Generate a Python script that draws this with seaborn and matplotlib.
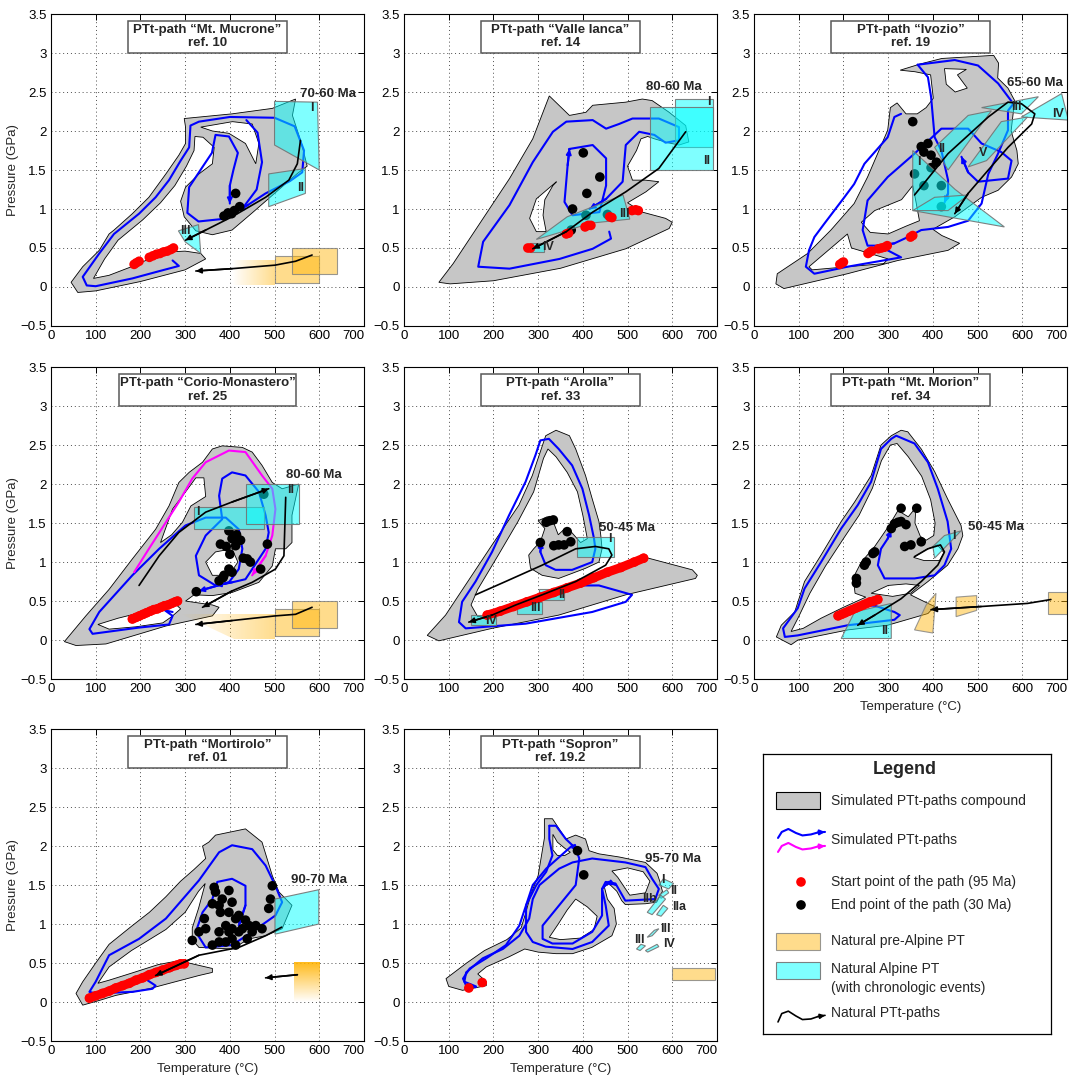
import numpy as np
import matplotlib
matplotlib.use('Agg')
import matplotlib.pyplot as plt
import seaborn as sns
from matplotlib.path import Path
from matplotlib.patches import PathPatch, Polygon, Rectangle

# ---------------- Mt. Mucrone (ref. 10) ----------------
muc_gray = [(45, 0.06), (60, -0.07), (100, -0.05), (200, 0.07), (300, 0.22), (346, 0.36),
            (335, 0.43), (300, 0.46), (265, 0.45), (220, 0.36), (180, 0.26), (130, 0.15), (95, 0.11),
            (120, 0.36), (150, 0.6), (205, 0.86), (245, 1.08), (277, 1.3), (303, 1.55), (320, 1.75), (322, 1.93),
            (340, 1.92), (365, 1.79), (361, 1.58), (331, 1.45), (301, 1.28), (290, 1.1), (298, 0.9), (324, 0.72),
            (361, 0.67), (405, 0.73), (450, 0.95), (480, 1.1), (520, 1.3), (550, 1.45), (573, 1.55),
            (560, 1.85), (540, 2.2), (547, 2.41), (495, 2.29), (405, 2.22), (298, 2.16), (301, 2.05),
            (301, 1.84), (286, 1.69), (257, 1.45), (219, 1.15), (182, 0.94), (141, 0.73), (130, 0.68),
            (108, 0.47), (71, 0.26)]
muc_holes = [[(335, 2.05), (406, 2.12), (450, 2.09), (465, 1.84), (458, 1.58), (435, 1.84), (398, 1.97), (361, 2.0)]]
muc_blue = [[(272, 0.34), (286, 0.27), (240, 0.2), (182, 0.11), (100, 0.01), (80, 0.02), (71, 0.13), (108, 0.43),
             (141, 0.68), (197, 0.94), (234, 1.15), (264, 1.37), (290, 1.62), (309, 1.79), (312, 2.07), (331, 2.12),
             (400, 2.18), (500, 2.17), (545, 2.06), (566, 1.75), (562, 1.47), (535, 1.36), (480, 1.2), (440, 1.05),
             (418, 0.98)],
            [(437, 2.14), (462, 1.98), (472, 1.6), (460, 1.25), (430, 1.02), (380, 0.87), (330, 0.84), (305, 0.95),
             (309, 1.28), (339, 1.54), (360, 1.72), (368, 1.95), (398, 1.93), (418, 1.72), (408, 1.5), (400, 1.3),
             (400, 1.07)]]
muc_magenta = []
muc_red = [(186, 0.29), (191, 0.31), (197, 0.33), (220, 0.38), (228, 0.4), (236, 0.42), (244, 0.43),
           (252, 0.45), (260, 0.46), (268, 0.48), (274, 0.5)]
muc_black = [(413, 1.2), (387, 0.91), (396, 0.95), (404, 0.94), (422, 1.03), (410, 0.98)]
muc_cyan = [[(500, 2.38), (596, 2.37), (600, 1.5), (500, 1.82)],
            [(487, 1.45), (569, 1.52), (569, 1.2), (487, 1.03)],
            [(285, 0.72), (330, 0.8), (335, 0.43), (300, 0.58)]]
muc_cyan_labels = [('I', 584, 2.29), ('II', 558, 1.27), ('III', 300, 0.72)]
muc_orange = [[(500, 0.05), (600, 0.05), (600, 0.4), (500, 0.4)],
              [(540, 0.17), (640, 0.17), (640, 0.5), (540, 0.5)]]
muc_fade = [(405, 500, 0.02, 0.34, 'h')]
muc_natural = [[(584, 0.41), (547, 0.33), (501, 0.28), (405, 0.235), (324, 0.205)],
               [(558, 1.88), (551, 1.58), (532, 1.37), (480, 1.15), (405, 0.9), (346, 0.73), (301, 0.6)]]
muc_age = ('70-60 Ma', 620, 2.47)

# ---------------- Valle Ianca (ref. 14) ----------------
val_gray = [(78, 0.06), (103, 0.04), (200, 0.08), (350, 0.24), (496, 0.49), (593, 0.75), (600, 0.83),
            (585, 0.88), (533, 0.96), (500, 1.08), (541, 1.22), (570, 1.35), (540, 1.37), (511, 1.37),
            (500, 1.55), (520, 1.75), (530, 1.9), (545, 1.93), (560, 1.9), (590, 1.85), (615, 1.82),
            (637, 1.86), (630, 2.07), (593, 2.24), (555, 2.39), (533, 2.41), (496, 2.37), (422, 2.33),
            (407, 2.24), (370, 2.2), (325, 2.45), (288, 1.9), (236, 1.39), (162, 0.75), (110, 0.3)]
val_holes = [[(341, 1.35), (296, 1.13), (281, 0.88), (296, 0.71), (318, 0.71), (311, 0.92), (315, 1.12), (333, 1.3)]]
val_blue = [[(459, 0.71), (463, 0.62), (422, 0.49), (348, 0.36), (236, 0.235), (166, 0.26), (177, 0.58),
             (236, 1.05), (288, 1.6), (333, 1.99), (363, 2.12), (422, 2.14), (452, 2.03), (481, 2.09),
             (511, 2.16), (570, 2.16), (615, 2.05), (615, 1.88), (585, 1.85), (560, 1.95), (526, 1.99),
             (496, 1.82), (489, 1.35), (452, 1.13), (415, 1.0)],
            [(370, 1.77), (422, 1.82), (452, 1.65), (452, 1.3), (437, 0.96), (377, 0.92), (359, 1.09),
             (366, 1.56), (370, 1.77)]]
val_magenta = []
val_red = [(277, 0.5), (283, 0.5), (363, 0.68), (368, 0.69), (405, 0.77), (412, 0.79), (418, 0.79),
           (460, 0.9), (465, 0.89), (510, 0.98), (518, 0.99), (524, 0.98)]
val_black = [(401, 1.72), (438, 1.41), (409, 1.2), (377, 1.0), (407, 0.92), (374, 0.73), (455, 0.93)]
val_cyan = [[(606, 1.79), (690, 1.79), (690, 2.41), (606, 2.41)],
            [(550, 1.5), (690, 1.5), (690, 2.31), (550, 2.31)],
            [(296, 0.61), (365, 0.9), (490, 1.18), (505, 0.87), (420, 0.82)],
            [(281, 0.45), (314, 0.45), (314, 0.56), (281, 0.56)]]
val_cyan_labels = [('I', 682, 2.37), ('II', 677, 1.62), ('III', 492, 0.94), ('IV', 322, 0.51)]
val_orange = []
val_fade = []
val_natural = [[(630, 1.99), (570, 1.52), (496, 1.22), (422, 0.96), (363, 0.71), (288, 0.49)]]
val_age = ('80-60 Ma', 604, 2.56)

# ---------------- Ivozio (ref. 19) ----------------
ivo_gray = [(49, 0.04), (67, -0.02), (209, 0.17), (322, 0.34), (434, 0.47), (460, 0.56), (420, 0.66),
            (400, 0.74), (449, 0.9), (509, 1.15), (546, 1.24), (576, 1.41), (591, 1.58), (588, 1.75),
            (575, 2.0), (583, 2.39), (568, 2.55), (545, 2.68), (547, 2.87), (536, 2.97), (420, 2.93),
            (372, 2.86), (327, 2.78), (360, 2.76), (395, 2.72), (401, 2.42), (385, 2.3), (365, 2.22),
            (340, 2.22), (320, 2.36), (305, 2.3), (299, 2.01), (254, 1.41), (224, 1.07), (172, 0.73),
            (120, 0.43), (52, 0.17)]
ivo_holes = [[(426, 2.8), (475, 2.79), (455, 2.72), (477, 2.55), (450, 2.5), (430, 2.6)],
             [(123, 0.26), (209, 0.68), (218, 0.5), (300, 0.36), (290, 0.3), (130, 0.22)],
             [(240, 0.83), (270, 0.98), (300, 1.05), (330, 1.12), (355, 1.3), (362, 1.1), (370, 0.85),
              (340, 0.78), (300, 0.68), (260, 0.7)]]
ivo_blue = [[(329, 2.22), (314, 2.18), (299, 1.92), (247, 1.58), (224, 1.32), (202, 1.15), (157, 0.81),
             (135, 0.64), (123, 0.47), (116, 0.26), (135, 0.17), (209, 0.26), (329, 0.38), (299, 0.47),
             (277, 0.53), (254, 0.53), (243, 0.73), (254, 1.11), (299, 1.41), (359, 1.71), (419, 2.03),
             (479, 2.03), (509, 1.84), (553, 1.73), (576, 1.62), (568, 1.39), (501, 1.35), (479, 1.47), (464, 1.67)],
            [(366, 2.85), (449, 2.91), (501, 2.84), (546, 2.61), (580, 2.35), (568, 2.26), (568, 2.01),
             (545, 1.7), (524, 1.45), (509, 1.07), (479, 0.85), (434, 0.77), (374, 0.73), (344, 0.64),
             (314, 0.56), (284, 0.53)],
            [(366, 2.85), (389, 2.69), (396, 2.44), (404, 1.92), (419, 1.75), (434, 1.37), (434, 1.2), (426, 1.08)]]
ivo_magenta = []
ivo_red = [(192, 0.29), (197, 0.31), (200, 0.32), (255, 0.43), (260, 0.45), (263, 0.46), (278, 0.49),
           (285, 0.5), (292, 0.51), (298, 0.53), (350, 0.64), (355, 0.66)]
ivo_black = [(355, 2.12), (374, 1.8), (389, 1.84), (380, 1.73), (396, 1.69), (408, 1.6), (359, 1.45),
             (380, 1.3), (419, 1.3), (419, 1.03), (396, 1.53)]
ivo_cyan = [[(355, 1.75), (450, 1.25), (560, 0.77), (355, 0.98)],
            [(355, 0.98), (404, 1.15), (479, 1.18), (434, 0.98)],
            [(404, 1.79), (479, 2.2), (531, 2.26), (434, 1.5)],
            [(479, 1.54), (553, 2.12), (612, 2.18), (520, 1.62)],
            [(509, 2.3), (636, 2.44), (598, 2.22)],
            [(598, 2.18), (688, 2.48), (703, 2.14)]]
ivo_cyan_labels = [('I', 368, 1.6), ('II', 419, 1.77), ('V', 512, 1.72), ('III', 587, 2.31), ('IV', 680, 2.22)]
ivo_orange = []
ivo_fade = []
ivo_natural = [[(359, 1.18), (434, 1.71), (524, 2.18), (568, 2.37), (598, 2.35), (628, 2.22), (621, 2.09),
                (568, 1.79), (524, 1.5), (479, 1.2), (449, 0.94)]]
ivo_age = ('65-60 Ma', 628, 2.62)

# ---------------- Corio-Monastero (ref. 25) ----------------
cor_gray = [(30, -0.02), (56, -0.07), (123, -0.05), (257, 0.18), (361, 0.31), (376, 0.42), (361, 0.45),
            (301, 0.5), (320, 0.58), (361, 0.57), (405, 0.61), (465, 0.74), (495, 0.95), (502, 1.17),
            (525, 1.17), (539, 1.25), (539, 1.6), (547, 1.81), (554, 2.0), (517, 1.94), (495, 2.02),
            (472, 2.24), (450, 2.41), (428, 2.47), (383, 2.49), (361, 2.45), (339, 2.28), (309, 2.15),
            (286, 2.02), (264, 1.72), (234, 1.42), (182, 1.04), (130, 0.65), (78, 0.31)]
cor_holes = [[(245, 1.25), (272, 1.68), (301, 1.9), (324, 2.08), (342, 2.08), (346, 1.84), (313, 1.72),
              (294, 1.51), (270, 1.35)],
             [(346, 1.0), (368, 1.13), (405, 1.17), (418, 1.0), (398, 0.83), (361, 0.83)],
             [(105, 0.2), (150, 0.28), (185, 0.33), (240, 0.42), (275, 0.48), (290, 0.4), (270, 0.3),
              (250, 0.22), (190, 0.17), (130, 0.14)]]
cor_blue = [[(272, 0.36), (255, 0.38), (272, 0.31), (264, 0.2), (197, 0.16), (93, 0.08), (86, 0.14),
             (108, 0.36), (182, 0.83), (242, 1.17), (301, 1.47), (346, 1.57), (391, 1.57), (420, 1.42),
             (428, 1.17), (420, 0.91), (398, 0.74), (331, 0.63)],
            [(368, 0.7), (331, 0.83), (324, 1.08), (346, 1.34), (383, 1.55), (376, 1.85), (383, 2.07),
             (405, 2.15), (435, 2.11), (465, 1.9), (480, 1.6), (487, 1.38), (480, 1.17), (435, 0.78),
             (405, 0.74), (368, 0.7)]]
cor_magenta = [[(186, 0.87), (219, 1.17), (257, 1.51), (286, 1.77), (316, 2.07), (346, 2.28), (398, 2.43),
                (435, 2.41), (472, 2.11), (495, 1.94), (502, 1.68), (495, 1.34), (480, 1.08), (450, 0.83)]]
cor_red = [(182, 0.27), (190, 0.29), (198, 0.31), (206, 0.33), (214, 0.35), (222, 0.37), (230, 0.39),
           (238, 0.4), (246, 0.42), (254, 0.44), (262, 0.45), (270, 0.47), (278, 0.49), (283, 0.5)]
cor_black = [(476, 1.87), (398, 1.4), (405, 1.3), (379, 1.23), (413, 1.21), (424, 1.28), (439, 1.04),
             (446, 1.0), (398, 0.91), (387, 0.83), (405, 0.87), (376, 0.76), (325, 0.62), (484, 1.23),
             (469, 0.91), (392, 1.2), (400, 1.1), (415, 1.35), (385, 0.8), (430, 1.05)]
cor_cyan = [[(320, 1.42), (476, 1.42), (476, 1.7), (320, 1.7)],
            [(437, 1.49), (554, 1.49), (554, 2.0), (437, 2.0)]]
cor_cyan_labels = [('I', 329, 1.64), ('II', 536, 1.92)]
cor_orange = [[(501, 0.05), (600, 0.05), (600, 0.4), (501, 0.4)],
              [(539, 0.16), (640, 0.16), (640, 0.5), (539, 0.5)]]
cor_fade = [(290, 501, 0.01, 0.33, 'h')]
cor_fade_clip = [(290, 0.33), (501, 0.33), (501, 0.01), (410, 0.01)]
cor_natural = [[(584, 0.42), (547, 0.33), (502, 0.31), (405, 0.25), (324, 0.2)],
               [(525, 1.83), (521, 1.08), (502, 0.91), (450, 0.74), (405, 0.63), (339, 0.42)],
               [(197, 0.7), (242, 1.08), (286, 1.38), (346, 1.64), (405, 1.77), (487, 1.94)]]
cor_age = ('80-60 Ma', 588, 2.11)

# ---------------- Arolla (ref. 33) ----------------
aro_gray = [(52, 0.06), (78, -0.01), (197, 0.15), (346, 0.32), (496, 0.58), (652, 0.79), (656, 0.83),
            (645, 0.9), (540, 1.06), (430, 0.82), (300, 0.56), (190, 0.32), (165, 0.3), (150, 0.45),
            (165, 0.65), (212, 1.1), (255, 1.52), (290, 1.9), (312, 2.33), (322, 2.45), (340, 2.35),
            (365, 2.15), (388, 1.9), (400, 1.6), (410, 1.3), (395, 1.25), (375, 1.38), (360, 1.43),
            (345, 1.35), (335, 1.5), (320, 1.58), (300, 1.53), (315, 1.43), (305, 1.26), (290, 1.17),
            (279, 1.09), (283, 0.92), (309, 0.83), (346, 0.79), (406, 0.92), (436, 1.0), (443, 1.17),
            (440, 1.35), (436, 1.52), (421, 1.81), (406, 2.11), (384, 2.45), (370, 2.62), (340, 2.69),
            (317, 2.62), (287, 2.11), (257, 1.73), (197, 1.22), (123, 0.58), (93, 0.32)]
aro_holes = []
aro_blue = [[(399, 0.7), (436, 0.7), (510, 0.58), (496, 0.49), (421, 0.36), (272, 0.21), (138, 0.15),
             (123, 0.23), (130, 0.49), (160, 0.75), (197, 1.13), (235, 1.6), (272, 2.03), (294, 2.37),
             (305, 2.56), (324, 2.58), (346, 2.45), (376, 2.24), (399, 1.94), (414, 1.6), (425, 1.3),
             (428, 1.17), (421, 1.0), (376, 0.9), (339, 0.9), (317, 0.96), (305, 1.13), (307, 1.26)]]
aro_magenta = []
aro_red = [(186, 0.32), (215, 0.37), (245, 0.43), (275, 0.49), (305, 0.55), (335, 0.61), (365, 0.67),
           (395, 0.73), (425, 0.8), (455, 0.87), (485, 0.93), (515, 1.0), (536, 1.05)]
aro_black = [(318, 1.51), (326, 1.53), (334, 1.54), (305, 1.25), (335, 1.21), (346, 1.22), (358, 1.22),
             (373, 1.26), (365, 1.39)]
aro_cyan = [[(387, 1.07), (469, 1.07), (469, 1.32), (387, 1.32)],
            [(302, 0.51), (358, 0.51), (358, 0.65), (302, 0.65)],
            [(253, 0.33), (309, 0.33), (309, 0.49), (253, 0.49)],
            [(149, 0.19), (205, 0.19), (205, 0.32), (149, 0.32)]]
aro_cyan_labels = [('I', 460, 1.3), ('II', 352, 0.58), ('III', 294, 0.41), ('IV', 194, 0.24)]
aro_orange = []
aro_fade = []
aro_natural = [[(160, 0.58), (227, 0.75), (309, 0.96), (384, 1.17), (428, 1.2), (458, 1.17), (465, 1.09),
                (451, 0.96), (384, 0.75), (309, 0.58), (250, 0.45), (197, 0.32), (145, 0.23)]]
aro_age = ('50-45 Ma', 499, 1.44)

# ---------------- Mt. Morion (ref. 34) ----------------
mor_gray = [(50, 0.04), (61, 0.19), (91, 0.36), (113, 0.75), (150, 1.09), (195, 1.52), (225, 1.77),
            (262, 2.11), (284, 2.5), (307, 2.62), (329, 2.69), (344, 2.67), (374, 2.45), (404, 2.16),
            (433, 1.81), (463, 1.47), (467, 1.34), (456, 1.17), (433, 0.96), (389, 0.75), (350, 0.58),
            (389, 0.47), (404, 0.43), (389, 0.34), (299, 0.19), (210, 0.13), (98, 0.0), (83, -0.06)]
mor_holes = [[(83, 0.11), (100, 0.3), (125, 0.6), (160, 0.95), (200, 1.3), (235, 1.6), (265, 1.95),
              (285, 2.3), (305, 2.5), (320, 2.52), (345, 2.35), (375, 2.1), (395, 1.8), (405, 1.5),
              (402, 1.34), (385, 1.28), (372, 1.33), (360, 1.5), (362, 1.7), (345, 1.58), (322, 1.66),
              (300, 1.45), (270, 1.2), (240, 1.0), (222, 0.8), (226, 0.6), (250, 0.55), (200, 0.42),
              (150, 0.28), (110, 0.15)],
             [(262, 0.6), (300, 0.7), (340, 0.72), (370, 0.7), (350, 0.6), (310, 0.56)],
             [(357, 1.06), (385, 1.16), (410, 1.22), (425, 1.12), (415, 1.02), (380, 1.02)]]
mor_blue = [[(247, 0.45), (270, 0.44), (314, 0.36), (326, 0.32), (314, 0.26), (210, 0.19), (98, 0.06),
             (69, 0.04), (65, 0.15), (98, 0.41), (113, 0.66), (150, 1.0), (195, 1.43), (232, 1.73),
             (262, 2.03), (284, 2.45), (307, 2.58), (318, 2.62), (359, 2.52), (389, 2.28), (411, 1.94),
             (433, 1.52), (441, 1.17), (426, 0.96), (404, 0.83), (359, 0.79), (292, 0.79), (277, 0.96),
             (284, 1.17), (299, 1.3), (307, 1.41)]]
mor_magenta = []
mor_red = [(188, 0.31), (196, 0.33), (204, 0.35), (212, 0.37), (220, 0.39), (228, 0.41), (236, 0.43),
           (244, 0.45), (252, 0.47), (260, 0.49), (268, 0.5), (277, 0.52)]
mor_black = [(229, 0.79), (229, 0.73), (247, 0.96), (251, 1.0), (266, 1.11), (270, 1.13), (307, 1.43),
             (314, 1.49), (322, 1.51), (329, 1.52), (340, 1.48), (329, 1.69), (364, 1.69), (337, 1.2),
             (351, 1.22), (374, 1.26)]
mor_cyan = [[(400, 1.2), (426, 1.34), (463, 1.4), (404, 1.05)],
            [(195, 0.02), (225, 0.36), (307, 0.47), (307, 0.02)]]
mor_cyan_labels = [('I', 446, 1.34), ('II', 293, 0.11)]
mor_orange = [[(359, 0.13), (385, 0.45), (407, 0.6), (400, 0.09)],
              [(452, 0.55), (498, 0.57), (498, 0.38), (452, 0.3)],
              [(657, 0.33), (700, 0.33), (700, 0.61), (657, 0.61)]]
mor_fade = []
mor_natural = [[(664, 0.52), (612, 0.47), (508, 0.43), (396, 0.39)],
               [(359, 1.07), (389, 1.17), (417, 1.22), (426, 1.13), (411, 0.96), (374, 0.75), (329, 0.53),
                (270, 0.32), (232, 0.19)]]
mor_age = ('50-45 Ma', 541, 1.45)

# ---------------- Mortirolo (ref. 01) ----------------
mrt_gray = [(56, 0.11), (71, -0.04), (108, 0.02), (145, 0.085), (219, 0.17), (331, 0.34), (361, 0.38),
            (361, 0.43), (331, 0.47), (286, 0.53), (240, 0.48), (180, 0.37), (130, 0.28), (105, 0.24),
            (130, 0.45), (180, 0.66), (220, 0.8), (257, 0.93), (300, 1.15), (330, 1.42), (345, 1.52),
            (330, 1.2), (316, 0.95), (316, 0.8), (331, 0.7), (405, 0.68), (443, 0.81), (480, 0.85),
            (517, 0.94), (539, 1.24), (510, 1.41), (495, 1.62), (472, 2.05), (435, 2.22), (368, 2.14),
            (353, 2.05), (339, 2.0), (346, 1.84), (320, 1.7), (290, 1.55), (257, 1.35), (220, 1.15),
            (182, 0.98), (130, 0.74), (100, 0.5), (71, 0.26)]
mrt_holes = []
mrt_blue = [[(205, 0.32), (234, 0.21), (227, 0.17), (182, 0.13), (100, 0.11), (86, 0.13), (100, 0.26),
             (130, 0.6), (197, 0.81), (257, 1.07), (331, 1.56), (376, 1.92), (405, 2.01), (450, 1.96),
             (480, 1.75), (502, 1.49), (517, 1.28), (502, 1.11), (450, 0.9), (405, 0.73), (346, 0.7),
             (324, 0.9), (339, 1.15), (361, 1.32), (372, 1.54), (405, 1.58), (435, 1.49), (435, 1.24),
             (420, 0.98)]]
mrt_magenta = []
mrt_red = [(86, 0.05), (100, 0.08), (115, 0.11), (130, 0.14), (145, 0.18), (160, 0.21), (175, 0.24),
           (190, 0.28), (205, 0.31), (220, 0.35), (235, 0.38), (250, 0.41), (265, 0.44), (280, 0.47),
           (290, 0.49), (298, 0.49)]
mrt_black = [(365, 1.47), (398, 1.43), (383, 1.32), (376, 1.24), (405, 1.28), (398, 1.15), (413, 1.07),
             (420, 1.11), (435, 1.05), (443, 0.98), (458, 0.98), (472, 0.94), (391, 0.98), (376, 0.9),
             (398, 0.9), (405, 0.81), (391, 0.77), (376, 0.77), (346, 0.94), (331, 0.9), (316, 0.79),
             (343, 1.07), (361, 1.26), (487, 1.2), (491, 1.32), (495, 1.49), (428, 0.94), (439, 0.81),
             (420, 0.9), (405, 0.94), (368, 1.41), (379, 1.15), (450, 0.9), (413, 0.73), (361, 0.73)]
mrt_cyan = [[(501, 1.32), (599, 1.44), (599, 1.0), (501, 0.87)]]
mrt_cyan_labels = []
mrt_orange = []
mrt_fade = [(543, 600, 0.0, 0.51, 'v')]
mrt_natural = [[(551, 0.35), (480, 0.31)],
               [(516, 0.96), (480, 0.85), (420, 0.7), (331, 0.6), (234, 0.34)]]
mrt_age = ('90-70 Ma', 599, 1.57)

# ---------------- Sopron (ref. 19.2) ----------------
sop_gray = [(94, 0.3), (100, 0.2), (131, 0.15), (184, 0.21), (184, 0.26), (165, 0.36), (184, 0.45),
            (235, 0.58), (270, 0.68), (300, 0.64), (340, 0.62), (377, 0.62), (420, 0.7), (465, 0.85),
            (475, 1.0), (470, 1.2), (455, 1.32), (448, 1.48), (458, 1.52), (476, 1.42), (487, 1.3),
            (495, 1.25), (540, 1.26), (565, 1.28), (578, 1.42), (572, 1.55), (566, 1.65), (540, 1.79),
            (481, 1.86), (436, 1.9), (414, 1.94), (406, 2.09), (384, 2.14), (362, 2.09), (347, 2.22),
            (332, 2.35), (314, 2.35), (314, 2.1), (300, 1.62), (285, 1.4), (270, 1.1), (262, 0.95),
            (230, 0.8), (180, 0.66), (140, 0.5)]
sop_holes = [[(325, 0.83), (345, 1.0), (365, 1.18), (384, 1.32), (410, 1.22), (432, 1.1), (425, 0.93),
              (395, 0.82), (350, 0.8)],
             [(333, 2.15), (343, 2.05), (360, 1.97), (372, 1.92), (360, 1.88), (343, 1.88), (333, 1.95)],
             [(465, 1.68), (500, 1.72), (535, 1.67), (550, 1.55), (540, 1.4), (505, 1.37), (492, 1.48), (478, 1.6)]]
sop_blue = [[(161, 0.2), (135, 0.26), (139, 0.38), (176, 0.56), (221, 0.68), (258, 0.85), (280, 1.07),
             (288, 1.32), (303, 1.5), (347, 1.71), (377, 1.79), (421, 1.84), (495, 1.79), (540, 1.73),
             (555, 1.58), (570, 1.45), (562, 1.32), (495, 1.3), (484, 1.41), (473, 1.52), (451, 1.54),
             (443, 1.45), (451, 1.24), (458, 0.98), (421, 0.77), (377, 0.68), (317, 0.71), (288, 0.77),
             (273, 0.9), (273, 1.24), (288, 1.5), (318, 1.71), (377, 2.01), (389, 1.94)],
            [(325, 2.26), (340, 2.26), (362, 2.09), (384, 1.97), (392, 1.84), (384, 1.5), (347, 1.24),
             (310, 0.98), (310, 0.81), (332, 0.75), (377, 0.75), (421, 0.9), (443, 1.11), (443, 1.45),
             (458, 1.54), (473, 1.5)],
            [(325, 2.26), (325, 2.09), (332, 1.88), (318, 1.67), (296, 1.5), (273, 1.24), (258, 0.98),
             (228, 0.73), (184, 0.56), (147, 0.43), (132, 0.3), (139, 0.21), (161, 0.19)]]
sop_magenta = []
sop_red = [(145, 0.18), (175, 0.25)]
sop_black = [(402, 1.63), (388, 1.94)]
sop_cyan = [[(570, 1.5), (580, 1.58), (603, 1.52), (592, 1.45)],
            [(570, 1.37), (588, 1.44), (592, 1.4), (575, 1.33)],
            [(544, 1.15), (574, 1.37), (585, 1.32), (555, 1.12)],
            [(565, 1.12), (580, 1.24), (590, 1.2), (575, 1.1)],
            [(544, 0.83), (560, 0.92), (570, 0.94), (555, 0.85)],
            [(520, 0.68), (530, 0.74), (540, 0.72), (528, 0.66)],
            [(540, 0.66), (566, 0.74), (570, 0.71), (545, 0.64)]]
sop_cyan_labels = [('I', 580, 1.57), ('II', 602, 1.42), ('IIb', 549, 1.32), ('IIa', 615, 1.22),
                   ('III', 585, 0.94), ('III', 527, 0.8), ('IV', 592, 0.74)]
sop_orange = [[(600, 0.28), (695, 0.28), (695, 0.44), (600, 0.44)]]
sop_fade = []
sop_natural = []
sop_age = ('95-70 Ma', 602, 1.84)

titles = [('Mt. Mucrone', '10'), ('Valle Ianca', '14'), ('Ivozio', '19'),
          ('Corio-Monastero', '25'), ('Arolla', '33'), ('Mt. Morion', '34'),
          ('Mortirolo', '01'), ('Sopron', '19.2')]

panels = [
    dict(gray=muc_gray, holes=muc_holes, blue=muc_blue, magenta=muc_magenta, red=muc_red, band=False,
         black=muc_black, cyan=muc_cyan, clab=muc_cyan_labels, orange=muc_orange, fade=muc_fade,
         nat=muc_natural, age=muc_age),
    dict(gray=val_gray, holes=val_holes, blue=val_blue, magenta=val_magenta, red=val_red, band=False,
         black=val_black, cyan=val_cyan, clab=val_cyan_labels, orange=val_orange, fade=val_fade,
         nat=val_natural, age=val_age),
    dict(gray=ivo_gray, holes=ivo_holes, blue=ivo_blue, magenta=ivo_magenta, red=ivo_red, band=False,
         black=ivo_black, cyan=ivo_cyan, clab=ivo_cyan_labels, orange=ivo_orange, fade=ivo_fade,
         nat=ivo_natural, age=ivo_age),
    dict(gray=cor_gray, holes=cor_holes, blue=cor_blue, magenta=cor_magenta, red=cor_red, band=True,
         black=cor_black, cyan=cor_cyan, clab=cor_cyan_labels, orange=cor_orange, fade=cor_fade,
         fade_clip=cor_fade_clip, nat=cor_natural, age=cor_age),
    dict(gray=aro_gray, holes=aro_holes, blue=aro_blue, magenta=aro_magenta, red=aro_red, band=True,
         black=aro_black, cyan=aro_cyan, clab=aro_cyan_labels, orange=aro_orange, fade=aro_fade,
         nat=aro_natural, age=aro_age),
    dict(gray=mor_gray, holes=mor_holes, blue=mor_blue, magenta=mor_magenta, red=mor_red, band=True,
         black=mor_black, cyan=mor_cyan, clab=mor_cyan_labels, orange=mor_orange, fade=mor_fade,
         nat=mor_natural, age=mor_age),
    dict(gray=mrt_gray, holes=mrt_holes, blue=mrt_blue, magenta=mrt_magenta, red=mrt_red, band=True,
         black=mrt_black, cyan=mrt_cyan, clab=mrt_cyan_labels, orange=mrt_orange, fade=mrt_fade,
         nat=mrt_natural, age=mrt_age),
    dict(gray=sop_gray, holes=sop_holes, blue=sop_blue, magenta=sop_magenta, red=sop_red, band=False,
         black=sop_black, cyan=sop_cyan, clab=sop_cyan_labels, orange=sop_orange, fade=sop_fade,
         nat=sop_natural, age=sop_age),
]

sns.set_theme(style='white')
plt.rcParams['font.family'] = ['Liberation Sans', 'DejaVu Sans']
plt.rcParams['axes.unicode_minus'] = True

GRAY = '#c6c6c6'
BLUE = '#0000ff'
MAGENTA = '#ff00ff'
CYAN = (0.0, 1.0, 1.0, 0.5)
CYAN_EDGE = (0.45, 0.45, 0.45, 0.9)
ORANGE = (1.0, 0.70, 0.0, 0.45)
ORANGE_EDGE = (0.5, 0.5, 0.5, 0.8)


def oriented(ring, ccw):
    a = np.asarray(ring, float)
    s = np.sum(a[:, 0] * np.roll(a[:, 1], -1) - np.roll(a[:, 0], -1) * a[:, 1])
    if (s > 0) != ccw:
        a = a[::-1]
    return a


def compound_path(outer, holes):
    verts, codes = [], []
    for k, ring in enumerate([outer] + holes):
        a = oriented(ring, ccw=(k == 0))
        verts += list(a) + [a[0]]
        codes += [Path.MOVETO] + [Path.LINETO] * (len(a) - 1) + [Path.CLOSEPOLY]
    return Path(np.array(verts), codes)


def draw_line(ax, pts, color, lw, z, arrow=True, head=7):
    a = np.asarray(pts, float)
    sns.lineplot(x=a[:, 0], y=a[:, 1], sort=False, estimator=None, color=color, lw=lw,
                 ax=ax, legend=False, zorder=z)
    if arrow and len(a) > 1:
        ax.annotate('', xy=a[-1], xytext=a[-2],
                    arrowprops=dict(arrowstyle='-|>', color=color, lw=lw, shrinkA=0, shrinkB=0,
                                    mutation_scale=head), zorder=z + 0.05)


def draw_fade(ax, x0, x1, y0, y1, mode, clip=None, amax=0.5):
    n = 200
    ramp = np.linspace(0.0, 1.0, n)
    if mode == 'h':
        img = np.zeros((2, n, 4))
        img[..., 3] = ramp[None, :] * amax
    else:
        img = np.zeros((n, 2, 4))
        img[..., 3] = ramp[:, None] * amax
    img[..., 0] = 1.0
    img[..., 1] = 0.70
    img[..., 2] = 0.0
    im = ax.imshow(img, extent=[x0, x1, y0, y1], origin='lower', aspect='auto',
                   interpolation='bilinear', zorder=1.4)
    if clip is not None:
        poly = Polygon(clip, closed=True, transform=ax.transData, fc='none', ec='none')
        ax.add_patch(poly)
        im.set_clip_path(poly)


def style_axes(ax, show_ylabel, show_xlabel):
    ax.set_xlim(0, 700)
    ax.set_ylim(-0.5, 3.5)
    ax.set_xticks(np.arange(0, 701, 100))
    ax.set_yticks(np.arange(-0.5, 3.51, 0.5))
    ax.set_yticklabels(['\u22120.5', '0', '0.5', '1', '1.5', '2', '2.5', '3', '3.5'])
    ax.set_xticklabels([str(v) for v in range(0, 701, 100)])
    ax.tick_params(direction='in', length=4, width=0.7, top=True, right=True,
                   labelsize=9.5, pad=3, colors='black')
    # MATLAB keeps the last tick label inside the frame
    ax.get_xticklabels()[-1].set_horizontalalignment('right')
    ax.set_axisbelow(True)
    ax.grid(True, ls=(0, (1, 3)), lw=0.7, color='0.3')
    for s in ax.spines.values():
        s.set_color('black')
        s.set_linewidth(0.8)
    ax.set_facecolor('white')
    if show_ylabel:
        ax.set_ylabel('Pressure (GPa)', fontsize=9.5, labelpad=1)
    if show_xlabel:
        ax.set_xlabel('Temperature (\u00b0C)', fontsize=9.5, labelpad=4)


fig = plt.figure(figsize=(10.73, 10.87), dpi=100)
lefts = [0.0475, 0.3765, 0.7027]
bottoms = [0.7001, 0.3753, 0.0423]
W, H = 0.2917, 0.287

for i, p in enumerate(panels):
    r, c = divmod(i, 3)
    ax = fig.add_axes([lefts[c], bottoms[r], W, H])

    # simulated compound
    ax.add_patch(PathPatch(compound_path(p['gray'], p['holes']), fc=GRAY, ec='black', lw=0.6, zorder=1))

    # natural pre-Alpine PT
    for fd in p['fade']:
        draw_fade(ax, *fd, clip=p.get('fade_clip'), amax=0.9 if fd[4] == 'v' else 0.45)
    for poly in p['orange']:
        ax.add_patch(Polygon(poly, closed=True, fc=ORANGE, ec=ORANGE_EDGE, lw=0.8, zorder=1.5))

    # simulated paths
    for path in p['blue']:
        draw_line(ax, path, BLUE, 1.5, 2.5)
    for path in p['magenta']:
        draw_line(ax, path, MAGENTA, 1.5, 2.6)

    # end points
    bk = np.asarray(p['black'])
    sns.scatterplot(x=bk[:, 0], y=bk[:, 1], s=48, color='black', edgecolor='none', ax=ax,
                    legend=False, zorder=3.2)

    # natural alpine PT
    for poly in p['cyan']:
        ax.add_patch(Polygon(poly, closed=True, fc=CYAN, ec=CYAN_EDGE, lw=0.8, zorder=3.5))

    # start points
    rd = np.asarray(p['red'])
    if p['band']:
        sns.lineplot(x=rd[:, 0], y=rd[:, 1], sort=False, estimator=None, color='#ff0000', lw=6.5,
                     solid_capstyle='round', ax=ax, legend=False, zorder=3.6)
    sns.scatterplot(x=rd[:, 0], y=rd[:, 1], s=48, color='#ff0000', edgecolor='none', ax=ax,
                    legend=False, zorder=3.7)

    # natural PTt-paths
    for path in p['nat']:
        draw_line(ax, path, 'black', 1.2, 4.0, head=8)

    for lab, x, y in p['clab']:
        ax.text(x, y, lab, fontsize=9, fontweight='bold', ha='center', va='center', zorder=6)
    txt, ax_x, ax_y = p['age']
    ax.text(ax_x, ax_y, txt, fontsize=9.5, fontweight='bold', ha='center', va='center', zorder=6)

    name, ref = titles[i]
    bw = 0.565 if name == 'Corio-Monastero' else 0.51
    ax.add_patch(Rectangle((0.5 - bw / 2, 0.875), bw, 0.103, transform=ax.transAxes,
                           fc='white', ec='0.35', lw=1.1, zorder=10))
    ax.text(0.5, 0.927, f'PTt-path \u201c{name}\u201d\nref. {ref}', transform=ax.transAxes,
            ha='center', va='center', fontsize=9.5, fontweight='bold', linespacing=1.15, zorder=11)

    style_axes(ax, show_ylabel=(c == 0), show_xlabel=(i >= 5))

# ---------------- legend panel ----------------
leg = fig.add_axes([0.7111, 0.0488, 0.2684, 0.2576])
leg.set_xticks([])
leg.set_yticks([])
for s in leg.spines.values():
    s.set_color('black')
    s.set_linewidth(0.9)
leg.set_facecolor('white')

wave_x = [0.0, 0.08, 0.22, 0.38, 0.52, 0.7, 0.85, 1.0]
wave_y = [0.0, 0.6, 0.9, 0.5, 0.25, 0.35, 0.55, 0.6]

leg.text(142, 16, 'Legend', ha='center', va='center', fontsize=13, fontweight='bold')
tx = 68
leg.add_patch(Rectangle((13, 38), 44, 17, fc=GRAY, ec='black', lw=0.8))
leg.text(tx, 47, 'Simulated PTt-paths compound', va='center', fontsize=10)
for yb, col in [(84, BLUE), (98, MAGENTA)]:
    wx = [15 + 47 * v for v in wave_x]
    wy = [yb - 10 * v for v in wave_y]
    draw_line(leg, list(zip(wx, wy)), col, 1.5, 3, head=7)
leg.text(tx, 86, 'Simulated PTt-paths', va='center', fontsize=10)
leg.scatter([38], [128], s=48, color='#ff0000', edgecolor='none')
leg.text(tx, 128, 'Start point of the path (95 Ma)', va='center', fontsize=10)
leg.scatter([38], [151], s=48, color='black', edgecolor='none')
leg.text(tx, 151, 'End point of the path (30 Ma)', va='center', fontsize=10)
leg.add_patch(Rectangle((13, 179), 44, 17, fc=ORANGE, ec=ORANGE_EDGE, lw=0.8))
leg.text(tx, 187, 'Natural pre-Alpine PT', va='center', fontsize=10)
leg.add_patch(Rectangle((13, 208), 44, 17, fc=CYAN, ec=CYAN_EDGE, lw=0.8))
leg.text(tx, 215, 'Natural Alpine PT', va='center', fontsize=10)
leg.text(tx, 234, '(with chronologic events)', va='center', fontsize=10)
wx = [15 + 47 * v for v in wave_x]
wy = [268 - 12 * v for v in [0.0, 0.7, 0.9, 0.5, 0.2, 0.25, 0.45, 0.55]]
draw_line(leg, list(zip(wx, wy)), 'black', 1.2, 3, head=7)
leg.text(tx, 259, 'Natural PTt-paths', va='center', fontsize=10)
leg.set_xlim(0, 288)
leg.set_ylim(280, 0)

fig.savefig('out.png', dpi=100)
